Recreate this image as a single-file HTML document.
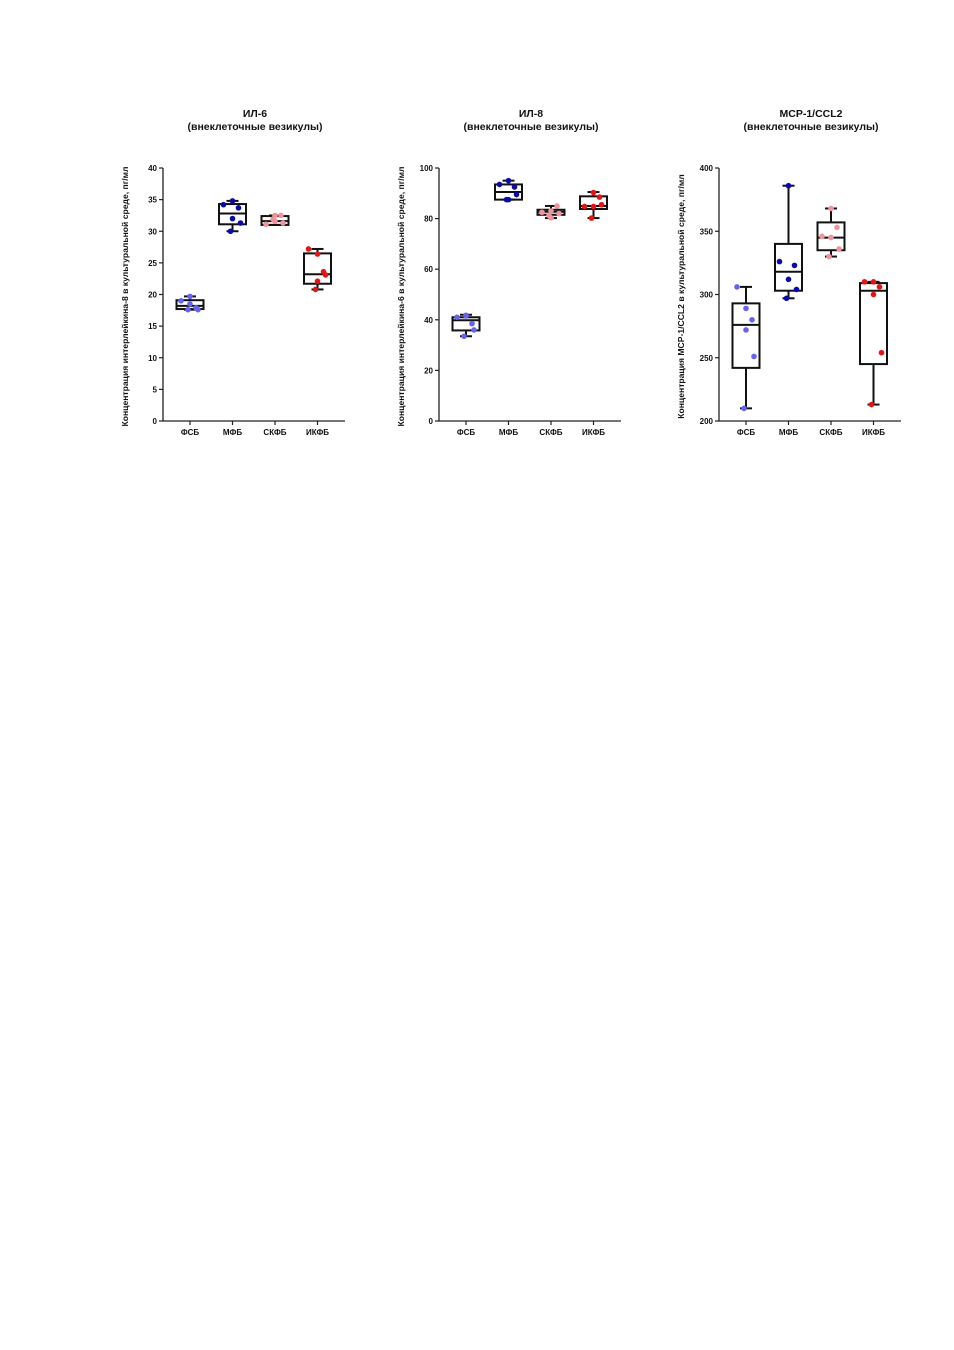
<!DOCTYPE html>
<html><head><meta charset="utf-8"><style>
html,body{margin:0;padding:0;background:#fff;}
svg{display:block;font-family:"Liberation Sans","DejaVu Sans",sans-serif;}
</style></head><body>
<svg id="fig" width="954" height="1350" viewBox="0 0 954 1350"></svg>
<script>
const categories = ["ФСБ","МФБ","СКФБ","ИКФБ"];
const colors = ["#6464ee","#0a0aa6","#f0949c","#e81414"];
const jitter = [-9,0,6,0,8,-2];
// panel 1: ИЛ-6
const p1Ticks = [0,5,10,15,20,25,30,35,40];
const p1Box = [[17.6,17.7,18.2,19.1,19.7],[30.0,31.1,32.8,34.3,34.8],[31.0,31.0,31.6,32.4,32.5],[20.8,21.7,23.2,26.5,27.2]];
const p1Pts = [[19.0,19.7,17.9,18.5,17.6,17.6],[34.2,34.8,33.7,32.0,31.3,30.0],[31.1,32.5,32.5,31.6,31.3,31.9],[27.2,26.4,23.6,22.1,23.1,20.8]];
// panel 2: ИЛ-8
const p2Ticks = [0,20,40,60,80,100];
const p2Box = [[33.5,35.8,39.8,41.0,42.0],[87.5,87.5,90.5,93.5,95.0],[80.2,81.5,82.7,83.5,85.0],[80.2,83.8,85.0,88.8,90.5]];
const p2Pts = [[41.0,41.5,38.5,41.8,36.0,33.5],[93.5,95.0,92.5,87.5,89.5,87.5],[82.5,80.3,85.0,83.0,82.0,81.2],[84.8,90.3,88.5,84.8,85.5,80.2]];
// panel 3: MCP-1/CCL2
const p3Ticks = [200,250,300,350,400];
const p3Box = [[210,242,276,293,306],[297,303,318,340,386],[330,335,345,357,368],[213,245,303,309,310]];
const p3Pts = [[306,289,280,272,251,210],[326,386,323,312,304,297],[346,368,353,345,336,330],[310,310,306,300,254,213]];

const NS="http://www.w3.org/2000/svg";
const svg=document.getElementById('fig');
function mk(tag,attrs,parent){const e=document.createElementNS(NS,tag);for(const k in attrs)e.setAttribute(k,attrs[k]);(parent||svg).appendChild(e);return e;}

function panel(key,ax0,title,ylabel,ticks,box,pts){
  const g=mk('g',{});
  
  
  const yTop=168,yBot=421,xEnd=ax0+182;
  const tmin=ticks[0],tmax=ticks[ticks.length-1];
  const y=v=>yBot-(v-tmin)/(tmax-tmin)*(yBot-yTop);
  const x=i=>ax0+27+i*42.5;
  const cx=ax0+92;
  const t1=mk('text',{x:cx,y:117,'text-anchor':'middle','font-size':10.5,'font-weight':'bold',fill:'#111'},g);
  t1.textContent=title;
  
  
  const t2=mk('text',{x:cx,y:130,'text-anchor':'middle','font-size':10.5,'font-weight':'bold',fill:'#111'},g);
  t2.textContent='(внеклеточные везикулы)';
  
  
  const yl=mk('text',{x:0,y:0,'text-anchor':'middle','font-size':8.6,'font-weight':'bold',fill:'#111',transform:`translate(${ax0-35},${(yTop+yBot)/2+2}) rotate(-90)`},g);
  yl.textContent=ylabel;
  
  
  const axis=mk('path',{d:`M${ax0},${yTop} V${yBot} H${xEnd}`,stroke:'#222','stroke-width':1.3,fill:'none'},g);
  
  
  ticks.forEach(t=>{
    mk('line',{x1:ax0-4,x2:ax0,y1:y(t),y2:y(t),stroke:'#222','stroke-width':1.2},g);
    const tl=mk('text',{x:ax0-6,y:y(t)+3,'text-anchor':'end','font-size':8,'font-weight':'bold',fill:'#111'},g);
    tl.textContent=t;
    
    
  });
  categories.forEach((c,i)=>{
    mk('line',{x1:x(i),x2:x(i),y1:yBot,y2:yBot+4,stroke:'#222','stroke-width':1.2},g);
    const xl=mk('text',{x:x(i),y:yBot+14,'text-anchor':'middle','font-size':8,'font-weight':'bold',fill:'#111'},g);
    xl.textContent=c;
    
    
    const b=box[i];const bg=mk('g',{},g);
    
    
    const w=13.5,cw=6;
    mk('line',{x1:x(i),x2:x(i),y1:y(b[0]),y2:y(b[1]),stroke:'#111','stroke-width':2},bg);
    mk('line',{x1:x(i),x2:x(i),y1:y(b[3]),y2:y(b[4]),stroke:'#111','stroke-width':2},bg);
    mk('line',{x1:x(i)-cw,x2:x(i)+cw,y1:y(b[0]),y2:y(b[0]),stroke:'#111','stroke-width':2},bg);
    mk('line',{x1:x(i)-cw,x2:x(i)+cw,y1:y(b[4]),y2:y(b[4]),stroke:'#111','stroke-width':2},bg);
    mk('rect',{x:x(i)-w,y:y(b[3]),width:2*w,height:Math.max(0.5,y(b[1])-y(b[3])),fill:'none',stroke:'#111','stroke-width':2},bg);
    mk('line',{x1:x(i)-w,x2:x(i)+w,y1:y(b[2]),y2:y(b[2]),stroke:'#111','stroke-width':2},bg);
    pts[i].forEach((v,j)=>{
      const p=mk('circle',{cx:x(i)+jitter[j],cy:y(v),r:2.8,fill:colors[i]},g);
      
      
    });
  });
}
panel('il6',163,'ИЛ-6','Концентрация интерлейкина-8 в культуральной среде, пг/мл',p1Ticks,p1Box,p1Pts);
panel('il8',439,'ИЛ-8','Концентрация интерлейкина-6 в культуральной среде, пг/мл',p2Ticks,p2Box,p2Pts);
panel('mcp1',719,'MCP-1/CCL2','Концентрация MCP-1/CCL2 в культуральной среде, пг/мл',p3Ticks,p3Box,p3Pts);
</script>
</body></html>
